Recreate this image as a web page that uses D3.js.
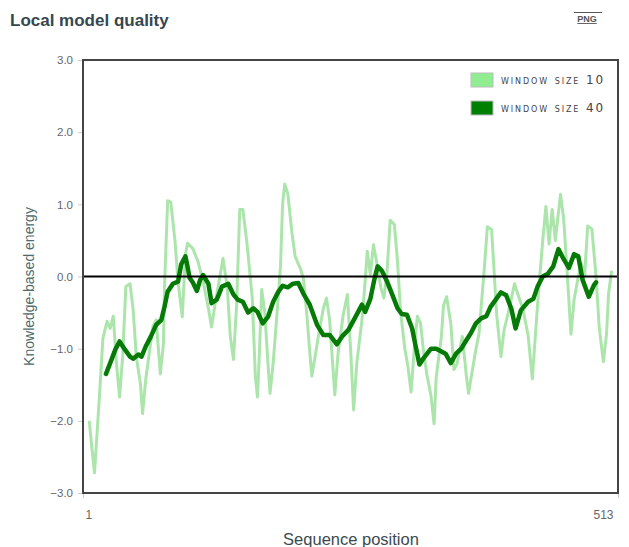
<!DOCTYPE html>
<html><head><meta charset="utf-8">
<script src="https://cdn.jsdelivr.net/npm/d3@7/dist/d3.min.js"></script>
<style>
body{margin:0;background:#fff;}
svg{display:block;font-family:"Liberation Sans",Arial,sans-serif;}
</style></head>
<body><svg id="c" width="629" height="547"></svg>
<script>
const titleText = "Local model quality";
const xLabel = "Sequence position";
const yLabel = "Knowledge-based energy";
const seriesNames = ["window size 10", "window size 40"];
const yTicks = [3, 2, 1, 0, -1, -2, -3];
const xTicks = [1, 513];

const w10Pos = [7,9,12,17,20,24,27,30,33,36,39,42,46,49,52,56,58,61,65,68,71,75,78,79,82,85,89,92,96,99,101,106,111,116,121,124,127,132,135,139,142,145,148,151,154,158,163,166,168,170,172,175,178,180,183,187,190,192,194,197,201,204,209,212,215,218,220,223,226,231,234,237,242,245,250,254,257,260,263,268,271,273,276,279,282,286,289,292,295,299,302,305,309,312,315,318,321,324,327,330,334,337,339,344,346,349,353,356,359,364,368,370,373,377,380,385,388,392,394,397,401,404,408,411,414,417,422,427,431,434,437,441,444,447,450,453,458,461,465,468,471,475,478,481,484,488,492,495,499,502,504,507];
const w10Val = [-2.0,-2.3,-2.72,-1.6,-0.86,-0.62,-0.72,-0.55,-1.2,-1.67,-1.1,-0.14,-0.10,-0.46,-1.11,-1.49,-1.9,-1.43,-1.0,-0.69,-0.6,-1.35,-0.93,-0.14,1.05,1.03,0.5,-0.08,-0.56,0.3,0.46,0.39,0.21,-0.07,-0.44,-0.7,-0.42,0,0.25,-0.14,-0.83,-1.15,-0.4,0.93,0.93,0.45,-0.3,-1.4,-1.67,-1.0,-0.18,-0.5,-1.2,-1.62,-1.2,-0.45,0.14,1.0,1.28,1.15,0.6,0.28,0.11,-0.03,-0.49,-1.04,-1.38,-1.12,-0.85,-0.44,-0.3,-0.6,-1.64,-1.08,-0.53,-0.25,-0.98,-1.85,-1.2,-0.6,-0.07,0.35,0.03,0.44,0.2,-0.15,-0.3,0.07,0.78,0.72,0.21,-0.5,-1.0,-1.25,-1.6,-1.0,-0.55,-0.65,-1.05,-1.35,-1.65,-2.04,-1.4,-0.83,-0.4,-0.28,-0.65,-1.29,-1.21,-0.83,-1.39,-1.62,-1.35,-1.01,-0.79,0.1,0.69,0.65,0.18,-0.55,-1.11,-0.74,-0.5,-0.3,-0.1,-0.24,-0.45,-0.82,-1.42,-0.8,-0.2,0.5,0.97,0.45,0.93,0.5,1.14,0.8,-0.1,-0.8,-0.32,0,0.18,0,0.7,0.66,0,-0.7,-1.18,-0.8,-0.23,0.08];

const w40Pos = [23,27,32,36,41,46,49,54,57,61,66,71,76,79,82,87,92,95,99,101,103,106,110,113,116,121,124,129,134,140,145,149,154,159,164,168,173,178,183,188,192,197,202,207,212,218,225,231,237,244,249,255,261,268,271,276,280,283,287,292,297,302,306,311,316,319,323,327,334,339,344,348,353,358,363,368,372,377,382,387,391,396,401,406,411,415,420,427,432,436,441,446,451,456,461,466,471,475,479,485,490,492];
const w40Val = [-1.35,-1.2,-1.01,-0.9,-1.01,-1.11,-1.14,-1.08,-1.11,-0.97,-0.83,-0.67,-0.6,-0.42,-0.21,-0.1,-0.07,0.17,0.28,0.14,-0.02,-0.08,-0.2,-0.05,0.02,-0.1,-0.37,-0.32,-0.14,-0.1,-0.25,-0.32,-0.35,-0.5,-0.44,-0.49,-0.65,-0.56,-0.35,-0.21,-0.13,-0.15,-0.1,-0.09,-0.24,-0.39,-0.67,-0.81,-0.81,-0.94,-0.83,-0.74,-0.58,-0.39,-0.49,-0.31,-0.03,0.14,0.08,-0.07,-0.25,-0.44,-0.52,-0.53,-0.72,-0.94,-1.22,-1.13,-1.0,-1.0,-1.04,-1.07,-1.2,-1.07,-1.0,-0.88,-0.79,-0.65,-0.58,-0.55,-0.42,-0.32,-0.22,-0.26,-0.45,-0.72,-0.47,-0.35,-0.31,-0.14,0.0,0.04,0.14,0.38,0.24,0.12,0.31,0.28,-0.04,-0.28,-0.12,-0.08];

const colors = ["#90ee90", "#008000"];

const svg = d3.select("#c");
const L = 83, R = 618, T = 60, B = 493;
const x = d3.scaleLinear().domain([1, 513]).range([L, R]);
const y = d3.scaleLinear().domain([-3, 3]).range([B, T]);

// title
svg.append("text").attr("x", 10).attr("y", 26).text(titleText)
  .attr("font-size", 17).attr("font-weight", "bold").attr("fill", "#37474f");
// PNG link
svg.append("line").attr("x1", 574).attr("x2", 602).attr("y1", 12.5).attr("y2", 12.5).attr("stroke", "#555").attr("stroke-width", 1);
svg.append("text").attr("x", 587).attr("y", 22).attr("text-anchor", "middle").text("PNG")
  .attr("font-size", 9).attr("font-weight", "bold").attr("fill", "#555")
  .attr("text-decoration", "underline");

// y axis ticks & labels
const yAxis = d3.axisLeft(y).tickValues(yTicks).tickFormat(d3.format(".1f")).tickSize(4).tickPadding(5);
const gy = svg.append("g").attr("transform", `translate(${L-1},0)`).call(yAxis);
gy.select(".domain").remove();
gy.selectAll(".tick line").attr("stroke", "#ccc");
gy.selectAll(".tick text").attr("fill", "#666").attr("font-size", 11.5).attr("font-family", "Liberation Sans, Arial, sans-serif");

const xAxis = d3.axisBottom(x).tickValues(xTicks).tickFormat(d3.format("d")).tickSize(4).tickPadding(12);
const gx = svg.append("g").attr("transform", `translate(0,${B+1})`).call(xAxis);
gx.select(".domain").remove();
gx.selectAll(".tick line").attr("stroke", "#ccc");
gx.selectAll(".tick text").attr("fill", "#666").attr("font-size", 12).attr("font-family", "Liberation Sans, Arial, sans-serif")
  .attr("text-anchor", (d, i) => i === 0 ? "start" : "end")
  .attr("dx", (d, i) => i === 0 ? 2 : -5);

// axis titles
svg.append("text").attr("transform", `translate(34,${(T+B)/2+10}) rotate(-90)`).attr("text-anchor", "middle")
  .text(yLabel).attr("font-size", 14).attr("fill", "#4f6a6a");
svg.append("text").attr("x", 351).attr("y", 545).attr("text-anchor", "middle")
  .text(xLabel).attr("font-size", 16.5).attr("fill", "#3b4a52");

const line = d3.line().x(d => x(d[0])).y(d => y(d[1]));
const plot = svg.append("g");
plot.append("path").datum(d3.zip(w10Pos, w10Val)).attr("d", line)
  .attr("fill", "none").attr("stroke", "#8fdc8f").attr("stroke-opacity", 0.75).attr("stroke-width", 3).attr("stroke-linejoin", "round");
plot.append("path").datum(d3.zip(w40Pos, w40Val)).attr("d", line)
  .attr("fill", "none").attr("stroke", "#067a06").attr("stroke-width", 4.5).attr("stroke-linejoin", "round").attr("stroke-linecap", "round");

// zero line
svg.append("line").attr("x1", L).attr("x2", R).attr("y1", y(0)).attr("y2", y(0)).attr("stroke", "#000").attr("stroke-width", 2);

// frame
svg.append("rect").attr("x", L).attr("y", T).attr("width", R-L).attr("height", B-T)
  .attr("fill", "none").attr("stroke", "#444").attr("stroke-width", 2);

// legend
const lg = svg.append("g");
seriesNames.forEach((name, i) => {
  const gy0 = 73 + i * 28;
  lg.append("rect").attr("x", 471).attr("y", gy0).attr("width", 22).attr("height", 14)
    .attr("fill", colors[i]).attr("stroke", "#bbb").attr("stroke-width", 1);
  lg.append("text").attr("x", 501).attr("y", gy0 + 11).text(name)
    .attr("font-size", 12).attr("font-variant", "small-caps").attr("letter-spacing", 1.9)
    .attr("font-family", "DejaVu Sans, sans-serif").attr("fill", "#444");
});
</script></body></html>
